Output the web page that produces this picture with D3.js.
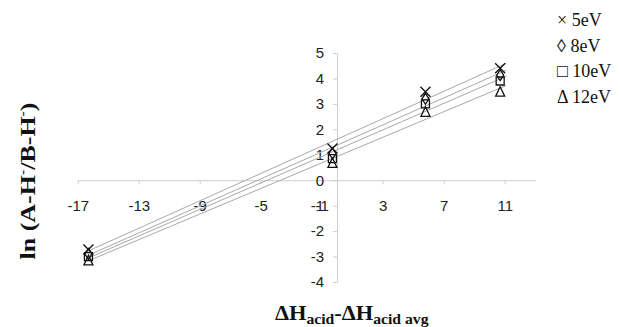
<!DOCTYPE html>
<html>
<head>
<meta charset="utf-8">
<script src="https://cdn.jsdelivr.net/npm/d3@7"></script>
<style>
  body { margin: 0; background: #fff; }
  svg { display: block; }
</style>
</head>
<body>
<div id="chart"></div>
<script>
// Data
const xValues = [-16.3, -0.3, 5.8, 10.7];
const series = ['5eV', '8eV', '10eV', '12eV'];
const y5 = [-2.72, 1.25, 3.48, 4.40];
const y8 = [-2.90, 1.05, 3.20, 4.13];
const y10 = [-3.00, 0.85, 3.00, 3.90];
const y12 = [-3.15, 0.68, 2.69, 3.48];
const symbols = ['cross', 'diamond', 'square', 'triangle'];
const legendGlyphs = ['\u00d7', '\u25ca', '\u25a1', '\u0394'];
const xTicks = [-17, -13, -9, -5, -1, 3, 7, 11];
const yTicks = [-4, -3, -2, -1, 0, 1, 2, 3, 4, 5];

const allY = [y5, y8, y10, y12];

const W = 620, H = 327;
var svg = d3.select('#chart').append('svg')
    .attr('width', W)
    .attr('height', H);

// Scales
var xScale = d3.scaleLinear().domain([-17, 13]).range([77.75, 535.25]);
var yScale = d3.scaleLinear().domain([-4, 5]).range([282, 53]);

const axisColor = '#cfcfcf';
const tickFont = '15px Arial, "Liberation Sans", sans-serif';

// x axis (crosses at y=0)
var gx = svg.append('g')
    .attr('transform', 'translate(0,' + yScale(0) + ')')
    .call(d3.axisBottom(xScale).tickValues(xTicks).tickSize(4).tickPadding(16)
        .tickSizeOuter(0).tickFormat(function(d) { return String(d); }));
gx.select('.domain').attr('stroke', axisColor);
gx.selectAll('.tick line').attr('stroke', axisColor);
gx.selectAll('.tick text')
    .attr('fill', '#222')
    .style('font', tickFont);

// y axis (crosses at x=0)
var gy = svg.append('g')
    .attr('transform', 'translate(' + xScale(0) + ',0)')
    .call(d3.axisLeft(yScale).tickValues(yTicks).tickSize(4).tickPadding(9)
        .tickSizeOuter(0).tickFormat(function(d) { return String(d); }));
gy.select('.domain').attr('stroke', axisColor);
gy.selectAll('.tick line').attr('stroke', axisColor);
gy.selectAll('.tick text')
    .attr('fill', '#222')
    .style('font', tickFont);

// Linear trend line for each series
function fit(xs, ys) {
    var n = xs.length;
    var mx = d3.mean(xs), my = d3.mean(ys);
    var sxy = 0, sxx = 0;
    for (var i = 0; i < n; i++) {
        sxy += (xs[i] - mx) * (ys[i] - my);
        sxx += (xs[i] - mx) * (xs[i] - mx);
    }
    var b = sxy / sxx;
    return {a: my - b * mx, b: b};
}

var xMin = d3.min(xValues), xMax = d3.max(xValues) + 0.4;
allY.forEach(function(ys) {
    var f = fit(xValues, ys);
    svg.append('line')
        .attr('x1', xScale(xMin))
        .attr('y1', yScale(f.a + f.b * xMin))
        .attr('x2', xScale(xMax))
        .attr('y2', yScale(f.a + f.b * xMax))
        .attr('stroke', '#a8a8a8')
        .attr('stroke-width', 1);
});

// Markers
function drawMarker(g, type, cx, cy) {
    var s = 4.5;
    var m = g.append('path')
        .attr('stroke', '#111').attr('stroke-width', 1.3).attr('fill', 'none');
    if (type === 'cross') {
        s = 5;
        m.attr('d', 'M' + (cx - s) + ',' + (cy - s) + 'L' + (cx + s) + ',' + (cy + s) +
            'M' + (cx - s) + ',' + (cy + s) + 'L' + (cx + s) + ',' + (cy - s));
    } else if (type === 'diamond') {
        m.attr('d', 'M' + cx + ',' + (cy - s - 1) + 'L' + (cx + s - 1) + ',' + cy +
            'L' + cx + ',' + (cy + s + 1) + 'L' + (cx - s + 1) + ',' + cy + 'Z');
    } else if (type === 'square') {
        s = 4;
        m.attr('d', 'M' + (cx - s) + ',' + (cy - s) + 'h' + 2 * s + 'v' + 2 * s + 'h' + (-2 * s) + 'Z');
    } else {
        m.attr('d', 'M' + cx + ',' + (cy - s - 0.5) + 'L' + (cx + s) + ',' + (cy + s) +
            'L' + (cx - s) + ',' + (cy + s) + 'Z');
    }
}

var markers = svg.append('g');
allY.forEach(function(ys, k) {
    ys.forEach(function(v, i) {
        drawMarker(markers, symbols[k], xScale(xValues[i]), yScale(v));
    });
});

// Axis titles
const titleFont = 'bold 20px "Liberation Serif", "Times New Roman", serif';

var yTitle = svg.append('text')
    .attr('transform', 'translate(35,181) rotate(-90) scale(1.3,1)')
    .attr('text-anchor', 'middle')
    .style('font', titleFont)
    .attr('fill', '#111');
yTitle.append('tspan').text('ln (A-H');
yTitle.append('tspan').attr('dy', -8).style('font-size', '12px').text('-');
yTitle.append('tspan').attr('dy', 8).text('/B-H');
yTitle.append('tspan').attr('dy', -8).style('font-size', '12px').text('-');
yTitle.append('tspan').attr('dy', 8).text(')');

var xTitle = svg.append('text')
    .attr('transform', 'translate(275,320) scale(1.12,1)')
    .style('font', titleFont)
    .attr('fill', '#111');
xTitle.append('tspan').text('\u0394H');
xTitle.append('tspan').attr('dy', 4).style('font-size', '14px').text('acid');
xTitle.append('tspan').attr('dy', -4).text('-\u0394H');
xTitle.append('tspan').attr('dy', 4).style('font-size', '14px').text('acid avg');

// Legend
var legend = svg.append('g')
    .style('font', '18px "Liberation Serif", "Times New Roman", serif')
    .attr('fill', '#111');
series.forEach(function(name, k) {
    legend.append('text')
        .attr('x', 557)
        .attr('y', 26 + k * 25.5)
        .text(legendGlyphs[k] + ' ' + name);
});
</script>
</body>
</html>
